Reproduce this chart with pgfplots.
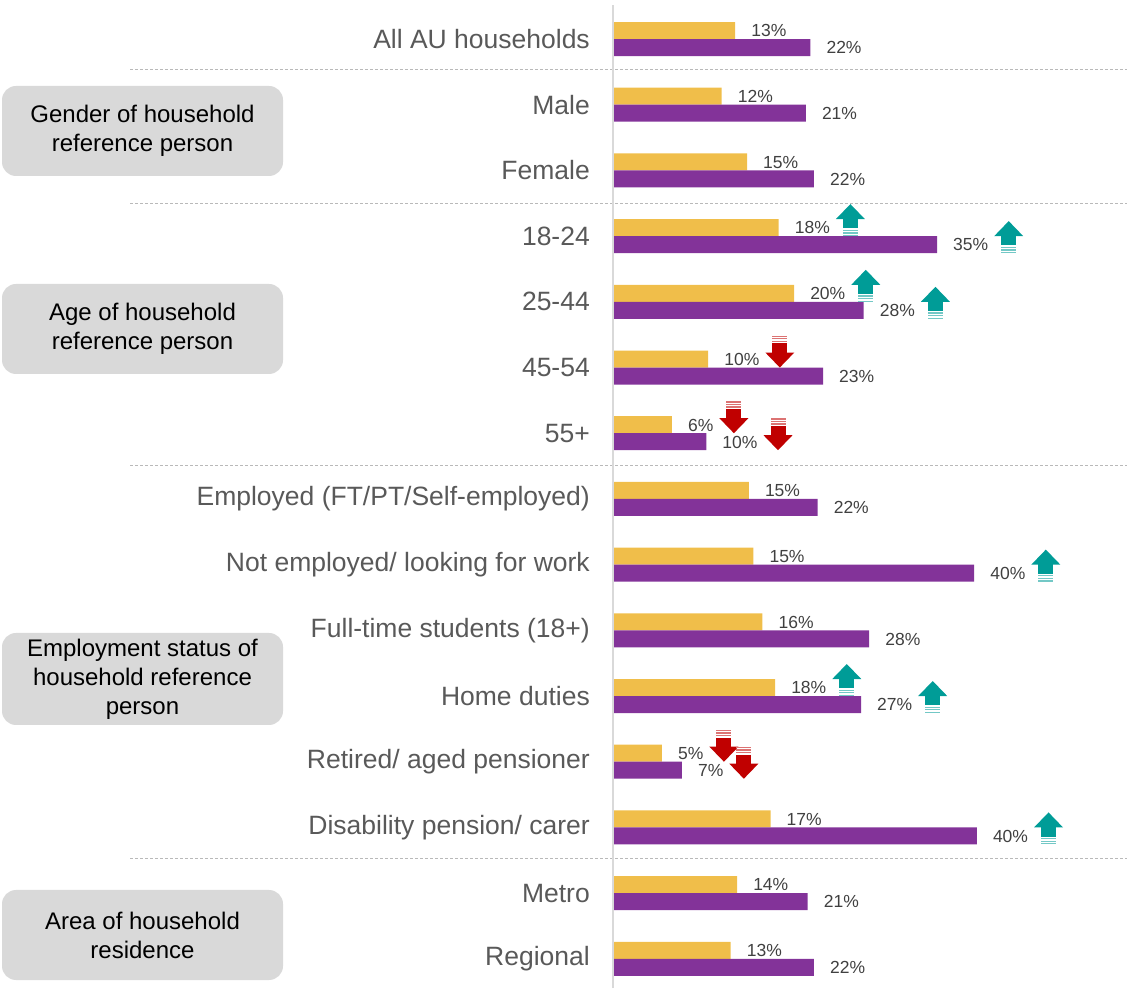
\documentclass[border=0pt]{standalone}
\usepackage{pgfplots}
\pgfplotsset{compat=1.18}
\usepackage{fontspec}
\setmainfont{Liberation Sans}

\definecolor{barY}{HTML}{F0BE4A}
\definecolor{barP}{HTML}{833399}
\definecolor{upC}{HTML}{009C97}
\definecolor{dnC}{HTML}{C00000}
\definecolor{boxC}{HTML}{D9D9D9}
\definecolor{catC}{HTML}{595959}
\definecolor{valC}{HTML}{404040}

% significance arrows (up = higher, down = lower)
\DeclareRobustCommand\up{\tikz[x=1pt,y=1pt,baseline=2.2pt]{%
  \fill[upC!55] (-7.5,0) rectangle (7.5,1.3);
  \fill[upC!55] (-7.5,2.6) rectangle (7.5,3.9);
  \fill[upC!55] (-7.5,5.2) rectangle (7.5,6.5);
  \fill[upC] (-7.5,7.8) rectangle (7.5,17.2);
  \fill[upC] (-14.5,17) -- (14.5,17) -- (0,32) -- cycle;}}
\DeclareRobustCommand\dn{\tikz[x=1pt,y=1pt,baseline=2.2pt]{%
  \fill[dnC!55] (-7.5,32) rectangle (7.5,30.7);
  \fill[dnC!55] (-7.5,29.4) rectangle (7.5,28.1);
  \fill[dnC!55] (-7.5,26.8) rectangle (7.5,25.5);
  \fill[dnC] (-7.5,24.2) rectangle (7.5,14.8);
  \fill[dnC] (-14.5,15) -- (14.5,15) -- (0,0) -- cycle;}}

\begin{document}
\begin{tikzpicture}
\path[use as bounding box] (0,0) rectangle (1127pt,988pt);

% group boxes
\tikzset{grp/.style={fill=boxC, rounded corners=14pt},
         grptxt/.style={align=center, font=\fontsize{24}{29}\selectfont, text=black}}
\fill[grp] (2pt,812pt) rectangle (283pt,902pt);
\node[grptxt] at (142.5pt,857pt) {Gender of household\\reference person};
\fill[grp] (2pt,614pt) rectangle (283pt,704pt);
\node[grptxt] at (142.5pt,659pt) {Age of household\\reference person};
\fill[grp] (2pt,263pt) rectangle (283pt,355pt);
\node[grptxt] at (142.5pt,309pt) {Employment status of\\household reference\\person};
\fill[grp] (2pt,8pt) rectangle (283pt,98pt);
\node[grptxt] at (142.5pt,53pt) {Area of household\\residence};

% separators and zero line
\foreach \yy in {918,784,522,129}
  \draw[gray!55, line width=1pt, dash pattern=on 3pt off 2pt] (130pt,\yy pt) -- (1127pt,\yy pt);
\draw[boxC, line width=2pt] (613pt,0pt) -- (613pt,983pt);

\begin{axis}[
    at={(614pt,0pt)}, anchor=south west,
    scale only axis, width=513pt, height=988pt,
    xmin=0, xmax=56.7,
    ymin=-0.5936, ymax=14.444, y dir=reverse,
    axis line style={draw=none},
    major tick length=0pt,
    xtick=\empty,
    ytick={0,...,14},
    yticklabels={{All AU households},{Male},{Female},{18-24},{25-44},{45-54},{55+},
      {Employed (FT/PT/Self-employed)},{Not employed/ looking for work},
      {Full-time students (18+)},{Home duties},{Retired/ aged pensioner},
      {Disability pension/ carer},{Metro},{Regional}},
    yticklabel style={font=\fontsize{26.5}{30}\selectfont, text=catC, anchor=east, inner sep=0pt, xshift=-24pt},
    clip=false,
    xbar, bar width=17pt,
    point meta=explicit symbolic,
    nodes near coords,
    every node near coord/.append style={font=\fontsize{17.5}{20}\selectfont, text=valC,
      anchor=base west, inner sep=0pt, xshift=16pt, yshift=-6.3pt},
]
% first series (yellow)
\addplot[fill=barY, draw=none, bar shift=8.5pt] coordinates {
  (13.4,0) [13\%]
  (11.9,1) [12\%]
  (14.7,2) [15\%]
  (18.2,3) [18\%\hspace{6pt}\up]
  (19.9,4) [20\%\hspace{6pt}\up]
  (10.4,5) [10\%\hspace{6pt}\dn]
  (6.4,6)  [6\%\hspace{6pt}\dn]
  (14.9,7) [15\%]
  (15.4,8) [15\%]
  (16.4,9) [16\%]
  (17.8,10) [18\%\hspace{6pt}\up]
  (5.3,11) [5\%\hspace{6pt}\dn]
  (17.3,12) [17\%]
  (13.6,13) [14\%]
  (12.9,14) [13\%]
};
% second series (purple)
\addplot[fill=barP, draw=none, bar shift=-8.5pt] coordinates {
  (21.7,0) [22\%]
  (21.2,1) [21\%]
  (22.1,2) [22\%]
  (35.7,3) [35\%\hspace{6pt}\up]
  (27.6,4) [28\%\hspace{6pt}\up]
  (23.1,5) [23\%]
  (10.2,6) [10\%\hspace{6pt}\dn]
  (22.5,7) [22\%]
  (39.8,8) [40\%\hspace{6pt}\up]
  (28.2,9) [28\%]
  (27.3,10) [27\%\hspace{6pt}\up]
  (7.5,11) [7\%\hspace{6pt}\dn]
  (40.1,12) [40\%\hspace{6pt}\up]
  (21.4,13) [21\%]
  (22.1,14) [22\%]
};
\end{axis}
\end{tikzpicture}
\end{document}
